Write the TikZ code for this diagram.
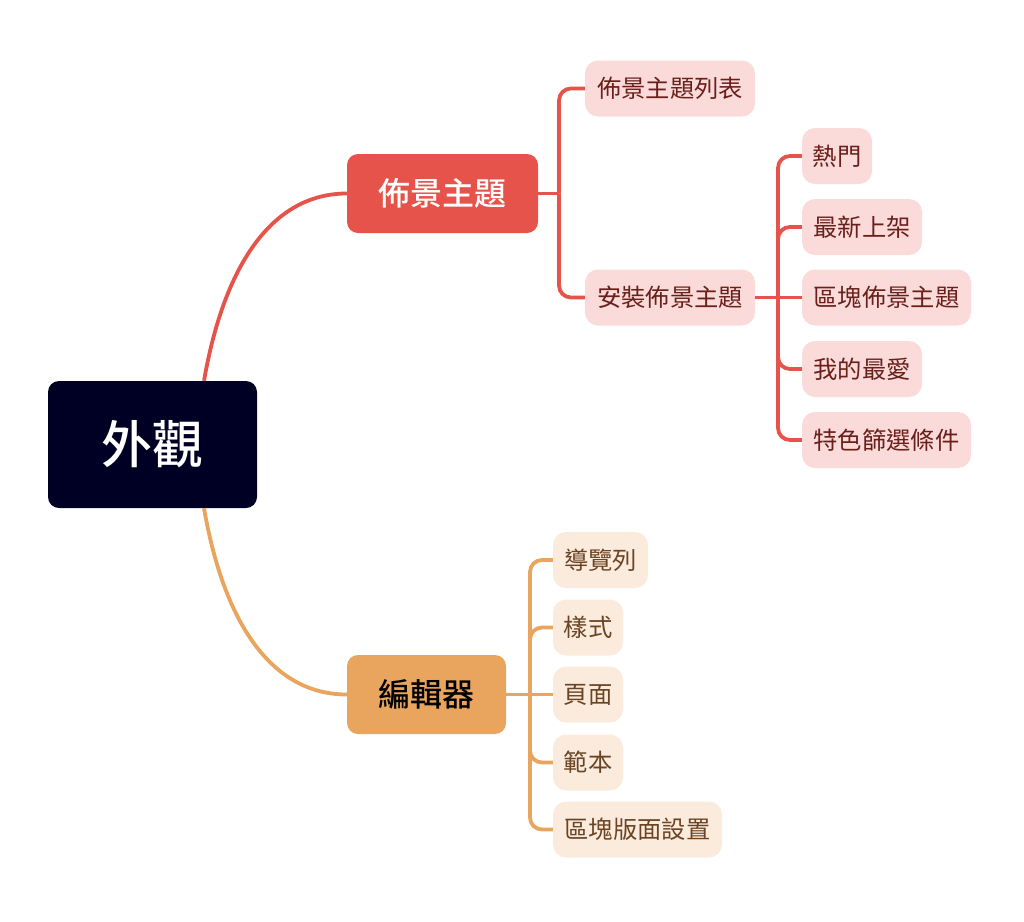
\documentclass[tikz,border=0pt]{standalone}
\usepackage{fontspec}
\setmainfont{Noto Sans CJK TC}
\newfontfamily\cjk{Noto Sans CJK TC}
\newfontfamily\cjkmed{Noto Sans CJK TC}[UprightFont={* Medium}]
\definecolor{rootc}{HTML}{000025}
\definecolor{redc}{HTML}{E5534B}
\definecolor{orc}{HTML}{E9A45E}
\definecolor{redl}{HTML}{FADBD9}
\definecolor{orl}{HTML}{FBEBDC}
\definecolor{redt}{HTML}{6A1F1B}
\definecolor{ort}{HTML}{6A4424}
\tikzset{
  base/.style={inner sep=0pt, align=center, font=\cjk},
  rootbox/.style={base, fill=rootc, text=white, rounded corners=11pt, minimum width=209pt, minimum height=127pt, font=\cjkmed\fontsize{51}{56}\selectfont},
  redmain/.style={base, fill=redc, text=white, rounded corners=11pt, minimum height=79pt, font=\cjkmed\fontsize{32}{36}\selectfont},
  ormain/.style={base, fill=orc, text=black, rounded corners=11pt, minimum height=79pt, font=\cjkmed\fontsize{32}{36}\selectfont},
  redsub/.style={base, fill=redl, text=redt, rounded corners=13pt, minimum height=56pt, font=\cjk\fontsize{24.3}{28}\selectfont},
  orsub/.style={base, fill=orl, text=ort, rounded corners=13pt, minimum height=56pt, font=\cjk\fontsize{24.3}{28}\selectfont},
  redline/.style={draw=redc, line width=3.8pt},
  orline/.style={draw=orc, line width=3.8pt},
}
\begin{document}
\begin{tikzpicture}[x=1pt,y=-1pt]
\useasboundingbox (0,0) rectangle (1024,921);
% nodes
\node[rootbox] (root) at (152.5,444.5) {外觀};
\node[redmain, minimum width=191pt] (theme) at (442.5,193.5) {佈景主題};
\node[ormain, minimum width=159pt] (editor) at (426.5,694.5) {編輯器};
\node[redsub, minimum width=170pt] (tlist) at (670,88.5) {佈景主題列表};
\node[redsub, minimum width=170pt] (tinst) at (670,297.5) {安裝佈景主題};
\node[redsub, minimum width=70pt] (hot) at (837,156) {熱門};
\node[redsub, minimum width=120pt] (new) at (862,227) {最新上架};
\node[redsub, minimum width=169pt] (block) at (886.5,297.5) {區塊佈景主題};
\node[redsub, minimum width=120pt] (fav) at (862,369) {我的最愛};
\node[redsub, minimum width=169pt] (filter) at (886.5,440) {特色篩選條件};
\node[orsub, minimum width=95pt] (nav) at (600.5,560) {導覽列};
\node[orsub, minimum width=70pt] (style) at (588,627.5) {樣式};
\node[orsub, minimum width=70pt] (page) at (588,694.5) {頁面};
\node[orsub, minimum width=70pt] (tmpl) at (588,762.5) {範本};
\node[orsub, minimum width=169pt] (blay) at (637.5,829.5) {區塊版面設置};
% connectors from root
\coordinate (rt) at ([xshift=51.5pt]root.north);
\coordinate (rb) at ([xshift=51.5pt]root.south);
\draw[redline] (rt) .. controls (225,260) and (275,193.5) .. (theme.west);
\draw[orline] (rb) .. controls (225,629) and (275,694.5) .. (editor.west);
% theme branches
\coordinate (j1) at (559,193.5);
\draw[redline] (theme.east) -- (j1);
\draw[redline, rounded corners=12pt] (j1) |- (tlist.west);
\draw[redline, rounded corners=12pt] (j1) |- (tinst.west);
% install branches
\coordinate (j2) at (778,297.5);
\draw[redline] (tinst.east) -- (block.west);
\draw[redline, rounded corners=12pt] (j2) |- (hot.west);
\draw[redline, rounded corners=12pt] (j2) |- (new.west);
\draw[redline, rounded corners=12pt] (j2) |- (fav.west);
\draw[redline, rounded corners=12pt] (j2) |- (filter.west);
% editor branches
\coordinate (j3) at (530,694.5);
\draw[orline] (editor.east) -- (page.west);
\draw[orline, rounded corners=12pt] (j3) |- (nav.west);
\draw[orline, rounded corners=12pt] (j3) |- (style.west);
\draw[orline, rounded corners=12pt] (j3) |- (tmpl.west);
\draw[orline, rounded corners=12pt] (j3) |- (blay.west);
\end{tikzpicture}
\end{document}
